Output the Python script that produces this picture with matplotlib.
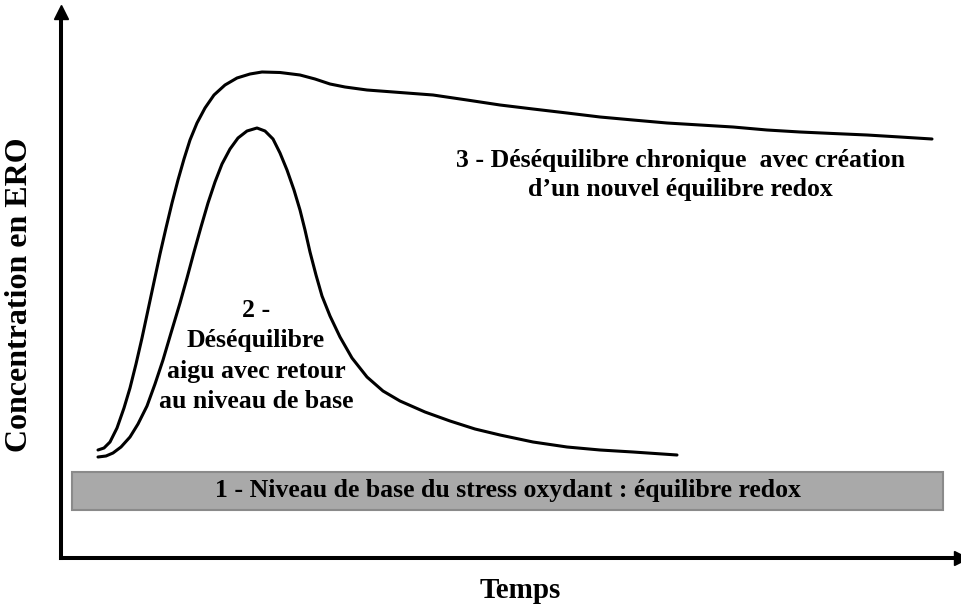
import matplotlib.pyplot as plt
import numpy as np

plt.rcParams['font.family'] = ['Liberation Serif', 'DejaVu Serif']
plt.rcParams['font.weight'] = 'bold'

##################################################################
# curve 3 : chronic imbalance (time, concentration)
t_chronic = [37, 43, 49, 56, 63, 69, 75, 81, 87, 93, 99, 105, 111, 117, 123,
             129, 136, 144, 153, 164, 176, 189, 201, 219, 239, 254, 269, 284,
             306, 339, 372, 406, 439, 472, 506, 539, 572, 606, 639, 672, 706,
             739, 772, 806, 839, 871]
c_chronic = [108, 110, 116, 130, 150, 170, 194, 220, 248, 276, 304, 330, 355,
             378, 399, 418, 435, 450, 463, 473, 480, 484, 486, 485.5, 483, 479,
             474, 471, 468, 465.5, 463, 458, 453, 449, 445, 441, 438, 435, 433,
             431, 428, 426, 424.5, 423, 421, 419]

# curve 2 : acute imbalance with return to baseline
t_acute = [37, 45, 52, 60, 69, 77, 86, 94, 102, 110, 119, 126, 133, 140, 147,
           154, 161, 169, 177, 186, 196, 204, 212, 219, 226, 233, 239, 244, 249,
           255, 261, 269, 279, 291, 306, 322, 339, 364, 389, 414, 439, 472, 506,
           539, 572, 616]
c_acute = [101, 102, 105, 111, 121, 134, 152, 174, 198, 225, 255, 280, 306, 331,
           355, 376, 394, 409, 420, 427, 430, 427, 419, 405, 388, 368, 348, 328,
           306, 283, 262, 242, 221, 200, 181, 167, 157, 146, 137, 129, 123, 116,
           111, 108, 106, 103]

# 1 : baseline band (start, end, low, high)
base_band = [11, 882, 48, 86]

label_base = "1 - Niveau de base du stress oxydant : équilibre redox"
label_acute = "2 -\nDéséquilibre\naigu avec retour\nau niveau de base"
label_chronic = "3 - Déséquilibre chronique  avec création\nd\u2019un nouvel équilibre redox"
xlabel = "Temps"
ylabel = "Concentration en ERO"
##################################################################

fig = plt.figure(figsize=(9.61, 6.06), dpi=100)
ax = fig.add_axes([61 / 961, 48 / 606, 900 / 961, 546 / 606])
ax.set_xlim(0, 900)
ax.set_ylim(0, 546)

# axes as arrows
for side in ['top', 'right']:
    ax.spines[side].set_visible(False)
for side in ['left', 'bottom']:
    ax.spines[side].set_linewidth(2.9)
ax.set_xticks([])
ax.set_yticks([])
ax.plot(1, 0, '>k', ms=10, transform=ax.get_yaxis_transform(), clip_on=False)
ax.plot(0, 1, '^k', ms=10, transform=ax.get_xaxis_transform(), clip_on=False)

# baseline band
x0, x1, y0, y1 = base_band
ax.add_patch(plt.Rectangle((x0, y0), x1 - x0, y1 - y0, facecolor='#a9a9a9',
                           edgecolor='#8a8a8a', linewidth=1.5))
ax.text((x0 + x1) / 2, (y0 + y1) / 2, label_base, ha='center', va='center',
        fontsize=18.5, fontweight='bold')

# curves
ax.plot(t_chronic, c_chronic, color='k', lw=2.2, solid_capstyle='round',
        solid_joinstyle='round')
ax.plot(t_acute, c_acute, color='k', lw=2.2, solid_capstyle='round',
        solid_joinstyle='round')

ax.text(195, 202, label_acute, ha='center', va='center', fontsize=18.5,
        fontweight='bold', linespacing=1.4)
ax.text(619, 383, label_chronic, ha='center', va='center', fontsize=18.5,
        fontweight='bold', linespacing=1.3)

fig.text(520 / 961, 1 - 590 / 606, xlabel, ha='center', va='center',
         fontsize=21, fontweight='bold')
fig.text(20 / 961, 1 - 295 / 606, ylabel, ha='center', va='center',
         rotation=90, fontsize=23, fontweight='bold')

plt.savefig('out.png', dpi=100)
